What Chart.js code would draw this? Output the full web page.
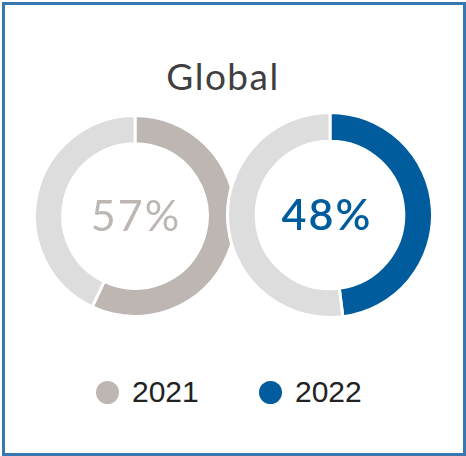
<!DOCTYPE html>
<html>
<head>
<meta charset="utf-8">
<script src="https://cdn.jsdelivr.net/npm/chart.js@4/dist/chart.umd.min.js"></script>
<style>
  html, body { margin: 0; padding: 0; background: #fff; }
  body { width: 466px; height: 456px; position: relative; overflow: hidden; }
  #frame { position: absolute; left: 2px; top: 2px; width: 458px; height: 448px; border: 3px solid #3a78b2; }
  #title { position: absolute; left: 0; width: 446px; top: 53px; text-align: center; font-family: Lato, sans-serif; font-size: 37px; letter-spacing: 1.5px; color: #3f3f3f; }
  .wrap { position: absolute; }
  #legend { position: absolute; top: 372px; left: 0; width: 466px; height: 40px; font-family: "Liberation Sans", Arial, sans-serif; font-size: 30px; color: #222; }
  .item { position: absolute; top: 0; height: 40px; line-height: 40px; white-space: nowrap; }
  .dot { position: absolute; top: 9px; width: 23px; height: 23px; border-radius: 50%; }
  .lab { position: absolute; top: 0; }
</style>
</head>
<body>
<div id="frame"></div>
<div id="title"></div>
<div class="wrap" id="w0" style="left:33px;top:114px;width:204px;height:204px;"><canvas id="c0"></canvas></div>
<div class="wrap" id="w1" style="left:226px;top:111px;width:208px;height:208px;"><canvas id="c1"></canvas></div>
<div id="legend"></div>
<script>
// ---- data ----
const chartTitle = 'Global';
const years = ['2021', '2022'];
const shares = [57, 48];          // percent
const restShares = [43, 52];      // remainder of each ring
const valueLabels = ['57%', '48%'];

// ---- styles ----
const mainColors = ['#bdb6b2', '#005c9c'];
const restColor = '#dddddd';
const textColors = ['#bdb6b2', '#005c9c'];
const textWeights = ['400', '600'];
const textShiftX = [0, -4];

document.getElementById('title').textContent = chartTitle;

const centerText = {
  id: 'centerText',
  afterDraw(chart, args, opts) {
    const meta = chart.getDatasetMeta(0);
    const arc = meta.data[0];
    if (!arc) return;
    const ctx = chart.ctx;
    ctx.save();
    ctx.font = opts.weight + ' 43px Lato, sans-serif';
    try { ctx.letterSpacing = '2px'; } catch (e) {}
    ctx.fillStyle = opts.color;
    ctx.textAlign = 'center';
    ctx.textBaseline = 'middle';
    ctx.fillText(opts.text, arc.x + opts.dx + 1, arc.y + 1);
    ctx.restore();
  }
};

years.forEach((yr, i) => {
  new Chart(document.getElementById('c' + i), {
    type: 'doughnut',
    data: {
      labels: [yr, 'rest'],
      datasets: [{
        data: [shares[i], restShares[i]],
        backgroundColor: [mainColors[i], restColor],
        borderColor: '#ffffff',
        borderWidth: 3,
        hoverOffset: 0
      }]
    },
    options: {
      responsive: true,
      maintainAspectRatio: false,
      animation: false,
      cutout: '72%',
      rotation: 0,
      layout: { padding: 0 },
      plugins: {
        legend: { display: false },
        tooltip: { enabled: false },
        title: { display: false },
        centerText: { text: valueLabels[i], color: textColors[i], weight: textWeights[i], dx: textShiftX[i] }
      }
    },
    plugins: [centerText]
  });
});

// legend
const legend = document.getElementById('legend');
const legendX = [96, 259];
years.forEach((yr, i) => {
  const item = document.createElement('div');
  item.className = 'item';
  item.style.left = legendX[i] + 'px';
  const dot = document.createElement('span');
  dot.className = 'dot';
  dot.style.left = '0px';
  dot.style.background = mainColors[i];
  const lab = document.createElement('span');
  lab.className = 'lab';
  lab.style.left = '36px';
  lab.textContent = yr;
  item.appendChild(dot);
  item.appendChild(lab);
  legend.appendChild(item);
});
</script>
</body>
</html>
